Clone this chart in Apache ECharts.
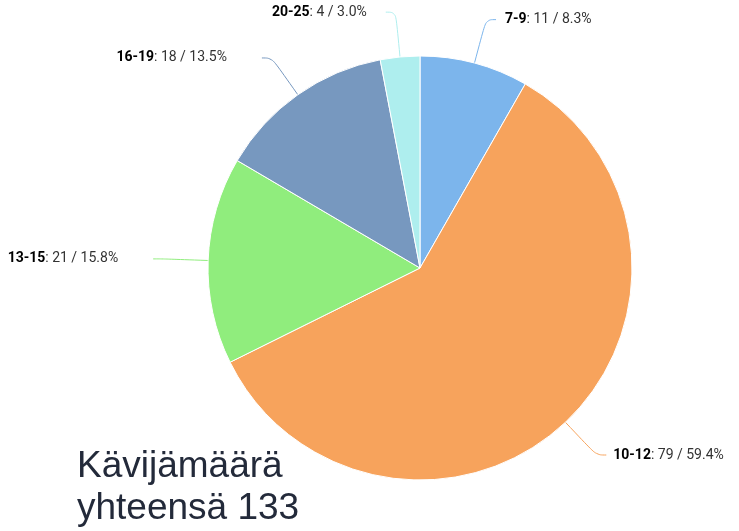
<!DOCTYPE html>
<html>
<head>
<meta charset="utf-8">
<script src="https://cdn.jsdelivr.net/npm/echarts@6/dist/echarts.min.js"></script>
<style>
  html, body { margin: 0; padding: 0; background: #fff; }
  #chart { width: 739px; height: 531px; }
</style>
</head>
<body>
<div id="chart"></div>
<script>
var ageGroups = ['7-9', '10-12', '13-15', '16-19', '20-25'];
var visitors = [11, 79, 21, 18, 4];
var sliceColors = ['#7cb5ec', '#f7a35c', '#90ed7d', '#7798bf', '#aeeeee'];
var totalText = 'Kävijämäärä\nyhteensä 133';
// extra gap between text and connector for the labels on the left side
var labelGap = [4, 2, 30, 30, 14];

var chart = echarts.init(document.getElementById('chart'));

var pieData = ageGroups.map(function (g, i) {
  var pad = i < 2 ? [0, 0, 0, labelGap[i]] : [0, labelGap[i], 0, 0];
  return {
    name: g,
    value: visitors[i],
    itemStyle: { color: sliceColors[i] },
    label: { padding: pad }
  };
});

var option = {
  animation: false,
  title: {
    text: totalText,
    left: 72,
    top: 441,
    textStyle: {
      fontFamily: 'Liberation Sans',
      fontSize: 37,
      fontWeight: 'normal',
      color: '#232a3a',
      lineHeight: 42
    }
  },
  series: [
    {
      type: 'pie',
      center: [420, 268],
      radius: [0, 212],
      startAngle: 90,
      clockwise: true,
      avoidLabelOverlap: false,
      data: pieData,
      itemStyle: { borderColor: '#fff', borderWidth: 1 },
      label: {
        show: true,
        fontFamily: 'Roboto',
        fontSize: 14,
        color: '#333',
        formatter: function (p) {
          return '{b|' + p.name + '}: ' + p.value + ' / ' + p.percent.toFixed(1) + '%';
        },
        rich: {
          b: { fontFamily: 'Roboto', fontWeight: 'bold', fontSize: 14, color: '#000' }
        }
      },
      labelLine: {
        show: true,
        length: 45,
        length2: 10,
        smooth: 0.4,
        lineStyle: { width: 1 }
      }
    }
  ]
};

chart.setOption(option);
</script>
</body>
</html>
